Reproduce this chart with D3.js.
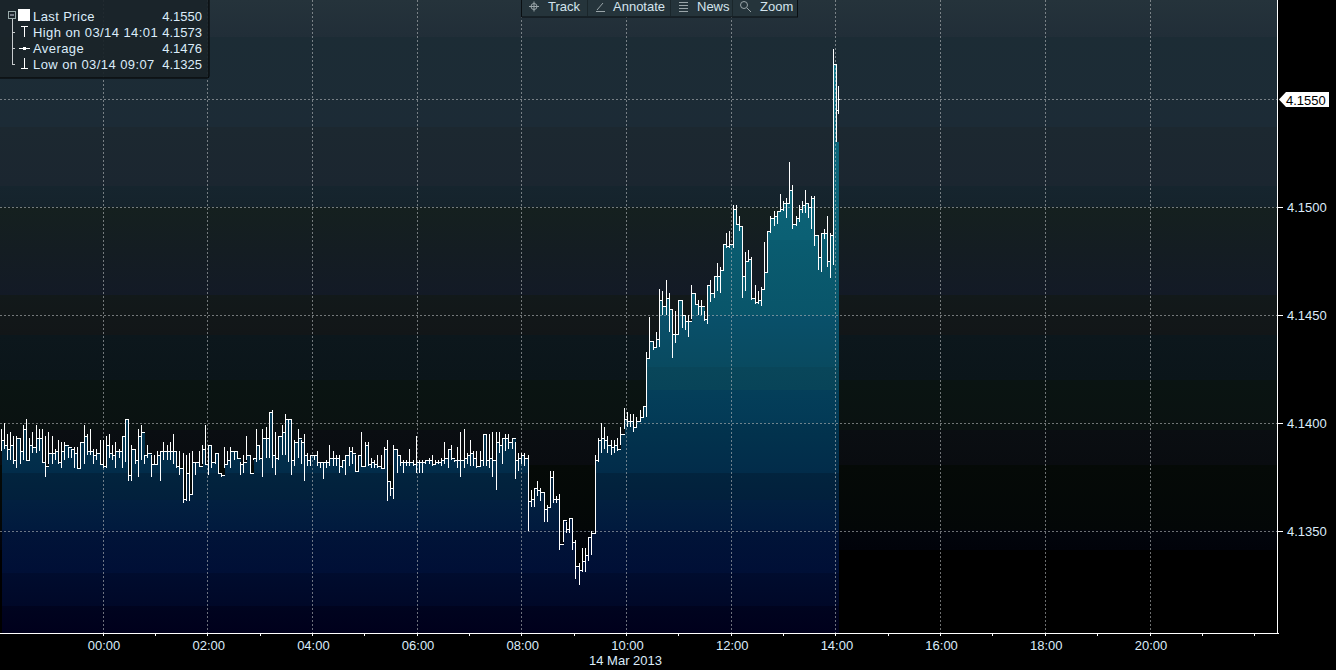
<!DOCTYPE html>
<html><head><meta charset="utf-8">
<script src="https://cdn.jsdelivr.net/npm/d3@7"></script>
<style>
html,body{margin:0;padding:0;background:#000;overflow:hidden}
text{font-family:"Liberation Sans",Arial,sans-serif;font-size:13px;fill:#dcecfa}
</style></head><body><svg id="c" width="1336" height="670"></svg>
<script>
// Bars: [high, low, close] in ten-thousandths above 4.10
const bars = [
[397,387,392],[400,388,390],[395,383,388],[396,383,390],[394,381,383],[394,379,393],[393,381,387],[399,383,397],[402,383,383],[393,383,390],
[396,386,389],[399,386,393],[397,387,393],[397,382,382],[394,375,380],[396,381,386],[394,381,386],[388,383,387],[392,381,382],[391,379,387],
[391,383,390],[389,384,389],[388,384,388],[389,379,386],[389,379,379],[391,379,391],[399,381,394],[395,385,387],[397,385,387],[388,381,385],
[388,383,386],[392,381,381],[392,379,380],[394,379,390],[395,384,386],[390,383,385],[391,379,387],[388,384,387],[394,379,394],[402,382,402],
[402,373,376],[390,373,388],[388,381,383],[397,375,394],[399,383,396],[385,381,385],[390,384,386],[385,375,381],[385,381,381],[387,381,385],
[387,373,387],[391,383,387],[390,383,387],[391,383,387],[395,381,387],[387,379,380],[387,376,379],[386,363,365],[385,364,377],[386,364,367],
[387,367,382],[382,376,382],[387,380,380],[390,381,388],[399,381,381],[390,376,390],[390,379,382],[386,381,386],[386,377,377],[377,375,376],
[389,379,381],[387,381,383],[389,379,387],[387,383,387],[387,384,384],[382,376,381],[385,377,382],[394,383,385],[385,377,377],[384,383,384],
[397,382,390],[390,383,384],[397,375,393],[398,384,393],[405,384,405],[406,379,385],[396,376,384],[394,383,394],[399,385,396],[404,385,402],
[402,382,402],[402,376,383],[392,380,391],[397,384,393],
[392,381,391],[395,373,385],[386,380,383],[385,380,385],[385,383,385],[387,380,382],[382,379,382],[382,374,382],[383,379,382],[390,380,384],
[387,380,384],[385,380,384],[385,377,380],[383,379,383],[385,376,385],[389,380,387],[389,381,386],[385,378,378],[385,378,385],[396,380,380],
[391,380,390],[391,380,381],[384,379,382],[383,379,381],[385,379,380],[385,379,379],[389,379,388],[392,364,373],[373,366,370],[390,365,388],
[388,377,385],[385,380,382],[383,377,382],[383,380,382],[388,380,382],[383,380,381],[394,377,382],[383,377,382],[383,377,382],[383,381,383],
[384,381,383],[385,380,381],[383,381,382],[383,381,382],[384,380,383],[391,381,384],[388,379,388],[390,383,384],[383,382,383],[389,379,383],
[396,375,383],[397,379,384],[386,381,385],[392,380,386],[387,380,384],[387,379,380],[387,380,383],[395,380,395],[395,380,383],[395,379,384],
[396,375,383],[396,369,391],[396,386,390],[393,381,393],[395,387,393],[395,388,391],[393,388,393],[391,374,383],[386,378,384],[386,381,385],
[386,380,384],[385,350,364],[369,361,365],[370,361,370],[373,366,369],[370,364,368],[368,354,360],[362,354,361],[378,361,375],[378,363,365],
[366,363,365],[367,341,344],[355,345,355],[354,349,351],[356,349,356],[356,341,345],[346,328,334],[335,325,332],[342,331,336],[342,331,339],
[347,336,347],[350,339,349],[385,349,383],[393,382,392],
[400,386,393],[398,388,392],[394,386,390],[392,385,389],[392,386,390],[393,387,388],[398,390,395],[407,397,402],[405,398,401],[404,398,401],
[404,396,398],[403,398,401],[406,401,403],[408,403,408],[433,403,430],[449,430,438],[438,434,435],[442,435,439],[462,435,457],[461,450,454],
[466,450,458],[460,442,453],[453,430,441],[452,437,441],[457,441,457],[457,444,450],[450,443,447],[450,440,447],[464,448,460],[460,455,455],
[457,450,454],
[457,450,454],[452,447,448],[464,446,464],[466,456,460],[468,458,468],[474,461,468],[472,460,471],[483,471,483],[488,481,482],[489,481,483],
[501,481,499],[501,492,492],[496,489,491],[491,458,468],[479,461,475],[480,475,476],[477,457,458],[464,455,456],[461,455,457],[463,454,462],
[484,462,470],[489,470,489],[496,488,495],[498,491,496],[498,492,498],[506,498,499],[503,498,502],[504,495,502],[521,502,508],[510,490,492],
[496,491,495],[501,493,499],[503,497,501],[508,497,502],[502,495,500],[505,490,504],[505,482,487],[487,471,477],[488,470,488],[490,485,488],
[496,472,475],[488,467,487],[573,473,566],[566,530,545],[556,543,550]
];
const fillFloorLast = 530;
const yTickValues = [350,400,450,500];
const yTickLabels = ["4.1350","4.1400","4.1450","4.1500"];
const lastPip = 550, lastLabel = "4.1550";
const hourTicks = [0,1,2,3,4,5,6,7,8,9,10,11,12,13,14,15,16,17,18,19,20,21,22];
const hourLabels = ["00:00","02:00","04:00","06:00","08:00","10:00","12:00","14:00","16:00","18:00","20:00"];
const dateLabel = "14 Mar 2013";
const legendRows = [["Last Price","4.1550"],["High on 03/14 14:01","4.1573"],["Average","4.1476"],["Low on 03/14 09:07","4.1325"]];
const toolbarItems = [["Track",548],["Annotate",613],["News",697],["Zoom",760]];
const bgBands = [[0,37,"#25333b","#212e38"],[37,127,"#1c2c35","#1c2b36"],[127,186,"#1c2830","#1b2630"],[186,207,"#16252e","#15232c"],[207,295,"#15201f","#131a26"],[295,335,"#12191a","#121618"],[335,380,"#0c171c","#0b151a"],[380,430,"#0a1412","#0a1211"],[430,465,"#0a0e12","#090c10"],[465,530,"#050a07","#030707"],[530,550,"#02050c","#01030a"],[550,633,"#000000","#000000"]];
const areaBands = [[0,100,"#118296","#0d7084"],[100,240,"#0c687c","#0b6074"],[240,315,"#0a5c70","#09556a"],[315,367,"#09506a","#094a60"],[367,390,"#09465a","#084458"],[390,423,"#043f5a","#033a56"],[423,473,"#02344e","#022c4a"],[473,500,"#02243e","#02203c"],[500,530,"#022040","#011a3e"],[530,573,"#011438","#000f36"],[573,606,"#000c2e","#000828"],[606,633,"#00041f","#00001c"]];

const W=1336,H=670,plotR=1278,plotB=633;
const svg=d3.select("#c");
const defs=svg.append("defs");
function grad(id,bands){
 const g=defs.append("linearGradient").attr("id",id).attr("gradientUnits","userSpaceOnUse").attr("x1",0).attr("x2",0).attr("y1",0).attr("y2",plotB);
 const stops=bands.flatMap(b=>[[b[0]/plotB,b[2]],[b[1]/plotB,b[3]]]);
 g.selectAll("stop").data(stops).join("stop").attr("offset",d=>d[0]).attr("stop-color",d=>d[1]);
}
grad("bg",bgBands);grad("ar",areaBands);

const y=d3.scaleLinear().domain([350,550]).range([531,99]);
const xH=d3.scaleLinear().domain([0,20]).range([102.5,1149.5]);
const n=bars.length;
const xB=d3.scaleLinear().domain([0,188,219,n-3,n-1]).range([0.5,601,701,833.4,838.3]);
const px=i=>Math.round(xB(i))+.5;

svg.append("rect").attr("width",W).attr("height",H).attr("fill","#000");
svg.append("rect").attr("width",plotR).attr("height",plotB).attr("fill","url(#bg)");

const areaData=bars.map((b,i)=>({x:px(i),c:i===n-2?fillFloorLast:b[2]}));
svg.append("path").datum(areaData).attr("fill","url(#ar)").attr("shape-rendering","crispEdges")
 .attr("d",d3.area().x(d=>d.x).y0(plotB).y1(d=>y(d.c)).curve(d3.curveStepAfter));

const grid=svg.append("g").attr("stroke","#b4b8ba").attr("stroke-dasharray","2,2").attr("shape-rendering","crispEdges").attr("opacity",.6);
grid.selectAll(".v").data(hourTicks.filter(h=>h%2===0&&h<=20)).join("line").attr("x1",d=>Math.round(xH(d))+.5).attr("x2",d=>Math.round(xH(d))+.5).attr("y1",0).attr("y2",plotB);
grid.selectAll(".h").data(yTickValues.concat(lastPip)).join("line").attr("x1",0).attr("x2",plotR).attr("y1",d=>Math.round(y(d))+.5).attr("y2",d=>Math.round(y(d))+.5);

const bg=svg.append("g").attr("stroke","#fff").attr("stroke-width",1).attr("shape-rendering","crispEdges");
bg.selectAll(".hl").data(bars).join("line").attr("x1",(d,i)=>px(i)).attr("x2",(d,i)=>px(i)).attr("y1",d=>Math.round(y(d[0]))).attr("y2",d=>Math.round(y(d[1])));
bg.selectAll(".cl").data(bars).join("line").attr("x1",(d,i)=>px(i)-.5).attr("x2",(d,i)=>i<n-1?px(i+1):px(i)+1).attr("y1",d=>Math.round(y(d[2]))+.5).attr("y2",d=>Math.round(y(d[2]))+.5);

const ax=svg.append("g").attr("transform",`translate(0,${plotB})`).call(d3.axisBottom(xH).tickValues(hourTicks).tickSize(3).tickFormat(""));
ax.select(".domain").remove();ax.selectAll("line").attr("stroke","#fff").attr("shape-rendering","crispEdges");
const ay=svg.append("g").attr("transform",`translate(${plotR},0)`).call(d3.axisRight(y).tickValues(yTickValues).tickSize(5).tickFormat((d,i)=>yTickLabels[i]));
ay.select(".domain").remove();ay.selectAll("line").attr("stroke","#fff").attr("shape-rendering","crispEdges");
ay.selectAll("text").attr("x",9).attr("dy","0.36em").style("font-family",'"Liberation Sans",Arial,sans-serif').style("font-size","13px").style("fill","#dcecfa");
svg.append("line").attr("x1",0).attr("x2",plotR+1).attr("y1",plotB+.5).attr("y2",plotB+.5).attr("stroke","#fff").attr("shape-rendering","crispEdges");
svg.append("line").attr("x1",plotR-.5).attr("x2",plotR-.5).attr("y1",0).attr("y2",plotB+1).attr("stroke","#fff").attr("shape-rendering","crispEdges");
svg.selectAll(".hlab").data(hourLabels).join("text").attr("class","hlab").attr("x",(d,i)=>xH(i*2)+1.5).attr("y",650).attr("text-anchor","middle").text(d=>d);
svg.append("text").attr("x",625.5).attr("y",665).attr("text-anchor","middle").text(dateLabel);

const ty=y(lastPip);
svg.append("path").attr("d",`M${plotR+1},${ty+.5} L${plotR+8},${ty-7} H1329 V${ty+8} H${plotR+8} Z`).attr("fill","#fff");
svg.append("text").attr("x",1286).attr("y",ty+5.5).style("fill","#000").text(lastLabel);

const lg=svg.append("g");
lg.append("rect").attr("x",-3).attr("y",-3).attr("width",212).attr("height",81).attr("rx",2).attr("fill","#1a2329").attr("fill-opacity",.93).attr("stroke","#000");
const rowY=[21,37,53,69];
lg.selectAll(".t").data(legendRows).join("text").attr("class","t").attr("x",33).attr("y",(d,i)=>rowY[i]).style("letter-spacing","0.42px").text(d=>d[0]);
lg.selectAll(".v").data(legendRows).join("text").attr("class","v").attr("x",202).attr("y",(d,i)=>rowY[i]).attr("text-anchor","end").text(d=>d[1]);
lg.append("rect").attr("x",18).attr("y",9).attr("width",12).attr("height",12).attr("fill","#fff");
lg.append("rect").attr("x",8.5).attr("y",11.5).attr("width",7).attr("height",7).attr("fill","none").attr("stroke","#9aa");
lg.append("line").attr("x1",10).attr("x2",14).attr("y1",15).attr("y2",15).attr("stroke","#ccd");
const tree=lg.append("g").attr("stroke","#c8ccce").attr("fill","none").attr("shape-rendering","crispEdges");
tree.append("path").attr("d","M12.5,19V64.5H15M12.5,32.5H15M12.5,48.5H15");
const ic=lg.append("g").attr("stroke","#fff").attr("fill","none").attr("shape-rendering","crispEdges");
ic.append("path").attr("d","M21,26.5H28M24.5,26V37");
ic.append("path").attr("d","M19,48.5H30");ic.append("circle").attr("cx",24.5).attr("cy",48.5).attr("r",1.5).attr("fill","#fff");
ic.append("path").attr("d","M21,68.5H28M24.5,58V69");

const tb=svg.append("g");
tb.append("rect").attr("x",521.5).attr("y",-2).attr("width",276).attr("height",19).attr("fill","#25343b").attr("stroke","#0a0f12");
[587,670,732].forEach(s=>tb.append("line").attr("x1",s+.5).attr("x2",s+.5).attr("y1",0).attr("y2",16).attr("stroke","#1a262b"));
tb.selectAll("text").data(toolbarItems).join("text").attr("x",d=>d[1]).attr("y",11).style("fill","#d4e4ee").text(d=>d[0]);
const ti=tb.append("g").attr("stroke","#9aa5a9").attr("fill","none");
ti.append("path").attr("d","M529,6.5H539M534,1.5V11.5");ti.append("circle").attr("cx",534).attr("cy",6.5).attr("r",3);
ti.append("path").attr("d","M597,10L603,3M596,11.5H605");
ti.append("path").attr("d","M679,2.5H688M679,5.5H688M679,8.5H688M679,11.5H688");
ti.append("circle").attr("cx",744).attr("cy",5).attr("r",3.5);ti.append("path").attr("d","M747,8L751,12");
</script></body></html>
